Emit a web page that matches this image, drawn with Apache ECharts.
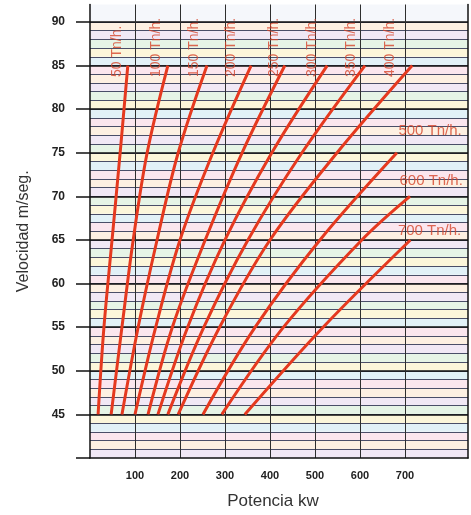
<!DOCTYPE html>
<html><head><meta charset="utf-8">
<script src="https://cdn.jsdelivr.net/npm/echarts@6/dist/echarts.min.js"></script>
<style>html,body{margin:0;padding:0;background:#fff}#c{width:471px;height:515px}</style>
</head><body><div id="c"></div>
<script>
// ---- data ----
const speedsFull = [45, 55, 65, 75, 85];
const speeds500 = [45, 55, 65, 75];
const speeds600 = [45, 55, 65, 70];
const speeds700 = [45, 55, 65];
const power50  = [18, 31, 49, 67, 84];
const power100 = [47, 71, 96, 127, 173];
const power150 = [71, 107, 149, 196, 260];
const power200 = [100, 146, 200, 273, 358];
const power250 = [129, 183, 256, 338, 433];
const power300 = [151, 217, 300, 404, 527];
const power350 = [173, 253, 351, 471, 611];
const power400 = [196, 288, 400, 549, 716];
const power500 = [251, 367, 511, 682];
const power600 = [293, 430, 604, 711];
const power700 = [344, 518, 712];
const tonnages = [50, 100, 150, 200, 250, 300, 350, 400, 500, 600, 700];
const xTickLabels = [100, 200, 300, 400, 500, 600, 700];
const yTickLabels = [45, 50, 55, 60, 65, 70, 75, 80, 85, 90];
const xTitle = 'Potencia kw';
const yTitle = 'Velocidad m/seg.';
const unit = ' Tn/h.';

// ---- build ----
const curves = [
  [power50, speedsFull], [power100, speedsFull], [power150, speedsFull],
  [power200, speedsFull], [power250, speedsFull], [power300, speedsFull],
  [power350, speedsFull], [power400, speedsFull], [power500, speeds500],
  [power600, speeds600], [power700, speeds700]
];
const FONT = "'Liberation Sans', Arial, sans-serif";
const RED = '#e5391f';
const LABEL_RED = '#d6452a';
const MINOR = '#4a4e68', MAJOR = '#111111', VERT = '#2e2e2e';
const T = 'rgba(0,0,0,0)';

const minorColors = [];
for (let v = 41; v <= 92; v++) minorColors.push(v <= 90 ? MINOR : T);
const majorColors = [];
for (let i = 0; i < 10; i++) majorColors.push(MAJOR);
majorColors.push(T);
const vertColors = [];
for (let i = 0; i < 7; i++) vertColors.push(VERT);
vertColors.push(T, T);
const pastel = ['#fbe6ee', '#e2f1f7', '#fcf6da', '#e6f4e6', '#f1e8f5', '#fdf0e2'];
const areaColors = [];
for (let v = 40; v < 92; v++) areaColors.push(v >= 90 ? '#f5f7fb' : pastel[(v * 7) % pastel.length]);

// label placement (style only)
const rotDx = [-10, -11, -12, -19, -10, -15, -13, -22];
const horPos = [[2, -21], [-10, -15], [-12, -9]];

const series = curves.map((c, i) => ({
  type: 'line',
  name: tonnages[i] + unit,
  data: c[0].map((p, k) => [p, c[1][k]]),
  showSymbol: false,
  smooth: 0.35,
  silent: true,
  z: 3,
  lineStyle: { color: RED, width: 3 }
}));

const labelData = curves.map((c, i) => {
  const last = c[0].length - 1;
  const item = { value: [c[0][last], c[1][last]], name: tonnages[i] + unit };
  if (i < 8) {
    item.label = { rotate: 90, align: 'left', verticalAlign: 'middle', position: [rotDx[i], 12] };
  } else {
    const hp = horPos[i - 8];
    item.label = { rotate: 0, align: 'left', verticalAlign: 'middle', position: hp, fontSize: 15 };
  }
  return item;
});
series.push({
  type: 'scatter',
  data: labelData,
  symbolSize: 1,
  silent: true,
  z: 4,
  itemStyle: { color: T },
  label: { show: true, formatter: '{b}', color: LABEL_RED, fontSize: 14, fontFamily: FONT }
});

const option = {
  animation: false,
  backgroundColor: '#ffffff',
  grid: { left: 90, right: 3, top: 4.5, bottom: 56 },
  xAxis: {
    type: 'value', min: 0, max: 840, interval: 100,
    name: xTitle, nameLocation: 'middle', nameGap: 35,
    nameTextStyle: { fontSize: 17, color: '#333', fontFamily: FONT, padding: [0, 12, 0, 0] },
    axisLine: { show: true, lineStyle: { color: MAJOR, width: 1.5 } },
    axisTick: { show: false },
    axisLabel: { customValues: xTickLabels, margin: 12, fontSize: 11, fontWeight: 'bold', color: '#222', fontFamily: FONT },
    splitLine: { show: true, showMinLine: false, lineStyle: { color: vertColors, width: 1 } }
  },
  yAxis: [
    {
      type: 'value', min: 40, max: 92, interval: 1, position: 'left',
      name: yTitle, nameLocation: 'middle', nameGap: 58,
      nameTextStyle: { fontSize: 16, color: '#333', fontFamily: FONT },
      axisLine: { show: true, lineStyle: { color: MAJOR, width: 1.5 } },
      axisTick: { show: false },
      axisLabel: { show: false },
      splitLine: { show: true, showMinLine: false, lineStyle: { color: minorColors, width: 1 } },
      splitArea: { show: true, areaStyle: { color: areaColors } }
    },
    {
      type: 'value', min: 40, max: 92, interval: 5, position: 'left',
      axisLine: { show: false },
      axisTick: { show: true, customValues: [40].concat(yTickLabels), length: 14, lineStyle: { color: MAJOR, width: 1.5 } },
      axisLabel: { customValues: yTickLabels, margin: 25, fontSize: 12, fontWeight: 'bold', color: '#222', fontFamily: FONT },
      splitLine: { show: true, showMinLine: false, lineStyle: { color: majorColors, width: 1.5 } }
    },
    {
      type: 'value', min: 40, max: 92, position: 'right',
      axisLine: { show: true, lineStyle: { color: MAJOR, width: 1.5 } },
      axisTick: { show: false }, axisLabel: { show: false }, splitLine: { show: false }
    }
  ],
  series: series
};
const chart = echarts.init(document.getElementById('c'), null, { renderer: 'canvas' });
chart.setOption(option);
</script>
</body></html>
